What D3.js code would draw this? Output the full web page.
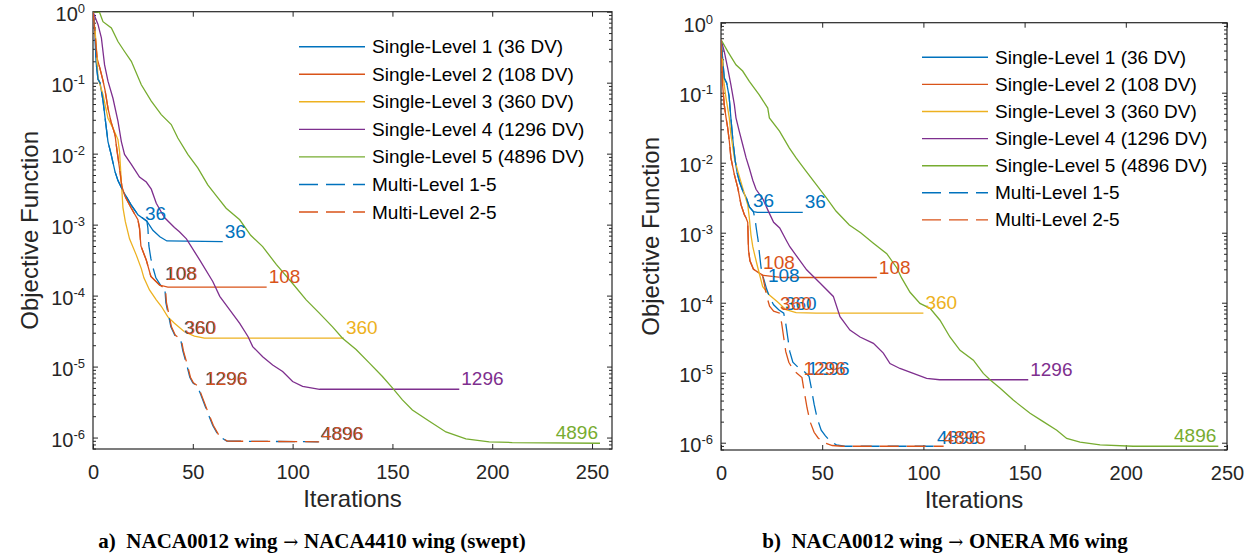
<!DOCTYPE html>
<html>
<head>
<meta charset="utf-8">
<script src="https://cdn.jsdelivr.net/npm/d3@7"></script>
<style>
  body { margin: 0; background: #fff; }
  svg text { font-family: "Liberation Sans", Arial, Helvetica, sans-serif; fill: #262626; }
  svg text.caption { font-family: "Liberation Serif", "Times New Roman", serif; font-weight: bold; fill: #000; }
</style>
</head>
<body>
<svg id="fig" width="1255" height="556"></svg>
<script>
// ---- panel a) NACA0012 -> NACA4410 (swept) ----
const aIt1 = [0,1,1.5,2.5,3.5,5,6.5,7.5,9,11,12.5,15.5,19,22.5,27,30,33.5,37,65];
const aObj1 = [1,0.5,0.2,0.112,0.1,0.0562,0.0251,0.0148,0.01,5.62e-3,4.17e-3,2.82e-3,1.91e-3,1.38e-3,1.12e-3,8.32e-4,6.76e-4,5.89e-4,5.75e-4];
const aIt2 = [0,1,2,3.5,5,6,7.5,9,11,12,12.5,13.5,14.5,16,19,22.5,23.3,24,26.7,29,33.3,37.5,87];
const aObj2 = [1,0.5,0.224,0.158,0.107,0.0794,0.0437,0.0282,0.0186,0.0112,8.91e-3,5.62e-3,3.39e-3,2.51e-3,1.74e-3,1.17e-3,8.91e-4,5.01e-4,3.16e-4,1.86e-4,1.41e-4,1.32e-4,1.32e-4];
const aIt3 = [0,1,1.8,2.5,5,7.5,10,12.5,13.3,14.2,15,16.2,18.3,21.7,24.2,25.5,28.3,31.7,34.2,37.5,40.8,45.8,50.8,55.8,125.7];
const aObj3 = [1,0.562,0.282,0.117,0.0676,0.0316,0.0229,0.0158,0.0107,3.98e-3,1.74e-3,1.1e-3,6.31e-4,3.72e-4,2.4e-4,1.78e-4,1.2e-4,8.71e-5,7.08e-5,5.01e-5,4.07e-5,3.09e-5,2.69e-5,2.51e-5,2.51e-5];
const aIt4 = [0,2.5,4.2,5.8,7.5,10,12.5,14.2,15.8,19.2,23.3,26.7,29.2,31.7,35.8,40.8,43.3,46.8,53.5,60,63.5,68.5,73.5,77.7,80,85,90,95,100,105,113.5,183.5];
const aObj4 = [1,0.661,0.427,0.178,0.105,0.0603,0.0288,0.0148,9.77e-3,7.08e-3,4.68e-3,3.98e-3,3.16e-3,2e-3,1.26e-3,9.12e-4,7.94e-4,6.31e-4,3.16e-4,1.58e-4,9.77e-5,6.31e-5,4.07e-5,2.63e-5,1.91e-5,1.38e-5,1.05e-5,8.51e-6,6.17e-6,5.25e-6,4.79e-6,4.79e-6];
const aIt5 = [0,3.3,5,9.2,12.5,15.8,19.2,24.2,29.2,34.2,39.2,42.5,47.5,52.5,57.5,62.5,66.7,73.5,79,85,91.8,100,106.8,113.5,120,125,131.8,138.5,145,150,155,160,168.5,176.8,186.8,198.5,210,254];
const aObj5 = [1,0.977,0.724,0.589,0.38,0.275,0.2,0.0933,0.055,0.0355,0.0257,0.0166,9.77e-3,6.31e-3,3.63e-3,2.4e-3,1.7e-3,1.17e-3,7.08e-4,4.9e-4,2.75e-4,1.48e-4,8.71e-5,5.62e-5,3.63e-5,2.51e-5,1.74e-5,1.12e-5,7.24e-6,5.01e-6,3.39e-6,2.45e-6,1.7e-6,1.2e-6,9.55e-7,8.71e-7,8.51e-7,8.32e-7];
const aItM1 = [0,1,1.5,2.5,3.5,5,6.5,7.5,9,11,12.5,15.5,19,22.5,27,27.5,28,29,30,31.5,34,36,36.5,38,39,41,43,44,45,47,48.5,50,52,53.5,57,60,63,67,113];
const aObjM1 = [1,0.5,0.2,0.112,0.1,0.0562,0.0251,0.0148,0.01,5.62e-3,4.17e-3,2.82e-3,1.91e-3,1.38e-3,1.12e-3,8.91e-4,5.01e-4,3.31e-4,2.51e-4,1.78e-4,1.38e-4,1.26e-4,7.94e-5,5.01e-5,3.63e-5,2.75e-5,2.51e-5,2.34e-5,1.66e-5,1.05e-5,7.08e-6,5.89e-6,5.37e-6,4.37e-6,2.4e-6,1.48e-6,1.05e-6,8.91e-7,8.71e-7];
const aItM2 = [0,1,2,3.5,5,6,7.5,9,11,12,12.5,13.5,14.5,16,19,22.5,23.3,24,26.7,29,33.3,36.3,36.8,38.3,39.3,41.3,43.3,44.3,45.3,47.3,48.8,50.3,52.3,53.8,57.3,60.3,63.3,67.3,113.3];
const aObjM2 = [1,0.5,0.224,0.158,0.107,0.0794,0.0437,0.0282,0.0186,0.0112,8.91e-3,5.62e-3,3.39e-3,2.51e-3,1.74e-3,1.17e-3,8.91e-4,5.01e-4,3.16e-4,1.86e-4,1.41e-4,1.26e-4,7.94e-5,5.01e-5,3.63e-5,2.75e-5,2.51e-5,2.34e-5,1.66e-5,1.05e-5,7.08e-6,5.89e-6,5.37e-6,4.37e-6,2.4e-6,1.48e-6,1.05e-6,8.91e-7,8.71e-7];
// level labels put along the multi-level runs
const aLabM1Text = ["36","108","360","1296","4896"];
const aLabM1It = [25,35,44.5,55,113];
const aLabM1Obj = [1.02e-3,1.45e-4,2.51e-5,4.9e-6,8.1e-7];
const aLabM2Text = ["108","360","1296","4896"];
const aLabM2It = [35.4,44.9,55.3,113.4];
const aLabM2Obj = [1.45e-4,2.51e-5,4.9e-6,8.1e-7];

// ---- panel b) NACA0012 -> ONERA M6 ----
const bIt1 = [0,1.6,2.8,4,5,6,7,8,9.2,11,12.5,14,16,18,40.4];
const bObj1 = [0.575,0.162,0.138,0.0891,0.0398,0.0191,0.0107,7.08e-3,5.25e-3,3.8e-3,3.16e-3,2.34e-3,2e-3,1.95e-3,1.95e-3];
const bIt2 = [0,0.8,1.6,2.5,3.3,4.1,4.9,6.6,8.3,9.9,11.5,12.4,13.2,13.6,14.3,16,18.5,21,30.5,77];
const bObj2 = [0.575,0.129,0.0676,0.0437,0.0316,0.0204,0.0117,6.76e-3,4.37e-3,2.51e-3,1.82e-3,1.62e-3,1.41e-3,5.62e-4,3.98e-4,3.02e-4,2.69e-4,2.45e-4,2.29e-4,2.29e-4];
const bIt3 = [0,0.8,1.6,2.5,4.1,4.9,6.6,8.3,10.7,13.2,14,14.8,15.7,16.5,18.1,20.6,23.9,28,32.1,37.1,47,100];
const bObj3 = [0.575,0.282,0.129,0.0832,0.0437,0.0251,0.0117,7.59e-3,4.37e-3,2.51e-3,1.62e-3,9.33e-4,6.31e-4,5.01e-4,3.24e-4,1.7e-4,1.29e-4,1.02e-4,7.94e-5,7.24e-5,7.08e-5,7.08e-5];
const bIt4 = [0,1.6,3.3,4.9,6.6,7.4,9,10.7,12.4,14,15.7,17.3,20.7,23.5,26,29,32.1,34,38,42.3,48.9,55.5,58.8,63.7,68.7,75.3,80.2,83.5,88.4,95,101.6,108,151.8];
const bObj4 = [0.575,0.389,0.224,0.129,0.0676,0.0437,0.0282,0.0182,0.0117,8.32e-3,5.62e-3,4.17e-3,3.02e-3,2e-3,1.41e-3,1.17e-3,7.94e-4,6.31e-4,4.37e-4,2.95e-4,1.91e-4,1.23e-4,6.31e-5,4.07e-5,3.24e-5,2.63e-5,1.91e-5,1.35e-5,1.15e-5,9.77e-6,8.32e-6,7.94e-6,7.94e-6];
const bIt5 = [0,3.3,7.4,10.7,14,18.9,23.1,23.9,28.9,33.8,37.1,42,47,52,56.8,63.4,69,75.3,81.9,86.8,89.3,93.4,98.3,103.3,108.2,113.1,118.1,124.7,129.6,132.9,137.8,144.4,152.7,159.2,165.9,170.8,177.4,187.3,203.7,245.7];
const bObj5 = [0.575,0.389,0.251,0.204,0.145,0.0933,0.0603,0.0437,0.0282,0.0162,0.0117,7.59e-3,4.9e-3,3.16e-3,2.04e-3,1.29e-3,1e-3,7.08e-4,5.01e-4,3.16e-4,2.24e-4,1.41e-4,9.77e-5,8.32e-5,5.62e-5,3.24e-5,2.09e-5,1.51e-5,9.77e-6,7.94e-6,6.03e-6,4.07e-6,2.63e-6,2e-6,1.51e-6,1.15e-6,1.02e-6,9.33e-7,8.91e-7,8.91e-7];
const bItM1 = [0,1.6,2.8,4,5,6,7,8,9.2,11,12.5,14,16,16.8,17.5,18.3,19,19.8,21,22.5,24,26,28.5,31,32,33,34,35.5,38,41,43.5,44.5,46,47.5,49.5,51.5,54,57,61,106];
const bObjM1 = [0.575,0.162,0.138,0.0891,0.0398,0.0191,0.0107,7.08e-3,5.25e-3,3.8e-3,3.16e-3,2.34e-3,2e-3,1.58e-3,1.12e-3,7.94e-4,5.01e-4,3.16e-4,2.24e-4,1.58e-4,1.2e-4,9.33e-5,7.94e-5,7.08e-5,5.01e-5,3.16e-5,2e-5,1.41e-5,1.2e-5,1.05e-5,8.91e-6,6.31e-6,3.55e-6,2.24e-6,1.51e-6,1.26e-6,1.05e-6,9.33e-7,8.91e-7,8.91e-7];
const bItM2 = [0,0.8,1.6,2.5,3.3,4.1,4.9,6.6,8.3,9.9,11.5,12.4,13.2,13.6,14.3,16,18.5,20.5,21.5,22.5,24,26,29,30,31,32,33.5,36,40,41,42.5,44,46,48,51,55,60,110];
const bObjM2 = [0.575,0.129,0.0676,0.0437,0.0316,0.0204,0.0117,6.76e-3,4.37e-3,2.51e-3,1.82e-3,1.62e-3,1.41e-3,5.62e-4,3.98e-4,3.02e-4,2.69e-4,2.45e-4,1.78e-4,1.26e-4,8.91e-5,7.59e-5,7.08e-5,5.01e-5,3.16e-5,2e-5,1.41e-5,1.07e-5,8.51e-6,5.62e-6,3.16e-6,2e-6,1.41e-6,1.17e-6,1e-6,9.12e-7,8.91e-7,8.91e-7];
const bLabM1Text = ["36","108","360","1296","4896"];
const bLabM1It = [14.8,22.2,30.6,41.7,105.7];
const bLabM1Obj = [2.04e-3,1.74e-4,6.92e-5,8.13e-6,8.32e-7];
const bLabM2Text = ["108","360","1296","4896"];
const bLabM2It = [19.8,28.2,39.8,109];
const bLabM2Obj = [2.63e-4,6.92e-5,8.13e-6,8.32e-7];

// shared
const seriesNames = ["Single-Level 1 (36 DV)", "Single-Level 2 (108 DV)", "Single-Level 3 (360 DV)",
  "Single-Level 4 (1296 DV)", "Single-Level 5 (4896 DV)", "Multi-Level 1-5", "Multi-Level 2-5"];
const dvText = ["36", "108", "360", "1296", "4896"];
const colors = ["#0072BD", "#D95319", "#EDB120", "#7E2F8E", "#77AC30"];
const xTickVals = [0, 50, 100, 150, 200, 250];
const yTickExp = [0, -1, -2, -3, -4, -5, -6];

const svg = d3.select("#fig");
svg.append("rect").attr("width", 1255).attr("height", 556).attr("fill", "#fff");

const dash = "19,8";
const axisCol = "#262626";

function drawPanel(p, idx) {
  const x = d3.scaleLinear().domain([0, p.xMax]).range([p.left, p.right]);
  const y = d3.scaleLog().domain([p.yMin, 1]).range([p.bottom, p.top]);
  const g = svg.append("g");

  const clipId = "clip" + idx;
  g.append("clipPath").attr("id", clipId).append("rect")
    .attr("x", p.left).attr("y", p.top).attr("width", p.right - p.left).attr("height", p.bottom - p.top);

  // minor ticks for the log axis (2..9 of each decade)
  const minor = [];
  for (let e = -7; e < 0; e++) {
    for (let m = 2; m <= 9; m++) {
      const v = m * Math.pow(10, e);
      if (v >= p.yMin && v <= 1) minor.push(v);
    }
  }
  const majors = yTickExp.map(e => Math.pow(10, e));

  // ticks inside the box, on all four sides
  const ax = [
    [d3.axisBottom(x).tickValues(xTickVals).tickSizeInner(-5), `translate(0,${p.bottom})`],
    [d3.axisTop(x).tickValues(xTickVals).tickSizeInner(-5).tickFormat(""), `translate(0,${p.top})`],
    [d3.axisLeft(y).tickValues(majors).tickSizeInner(-5).tickFormat(""), `translate(${p.left},0)`],
    [d3.axisLeft(y).tickValues(minor).tickSizeInner(-3).tickFormat(""), `translate(${p.left},0)`],
    [d3.axisRight(y).tickValues(majors).tickSizeInner(-5).tickFormat(""), `translate(${p.right},0)`],
    [d3.axisRight(y).tickValues(minor).tickSizeInner(-3).tickFormat(""), `translate(${p.right},0)`]
  ];
  ax.forEach(([a, tr], i) => {
    const s = g.append("g").attr("transform", tr).call(a.tickSizeOuter(0).tickPadding(16));
    s.select(".domain").remove();
    s.selectAll(".tick line").attr("stroke", axisCol);
    if (i === 0) {
      s.selectAll(".tick text").attr("font-size", 20).attr("fill", axisCol)
        .style("font-family", "'Liberation Sans', Arial, sans-serif");
    }
  });

  // 10^n labels
  yTickExp.forEach(e => {
    const t = g.append("text").attr("x", p.left - 8).attr("y", y(Math.pow(10, e)) + 9)
      .attr("text-anchor", "end").attr("font-size", 20);
    t.append("tspan").text("10");
    t.append("tspan").attr("dy", -8).attr("font-size", 13).text(e === 0 ? "0" : "-" + (-e));
  });

  g.append("rect").attr("x", p.left).attr("y", p.top)
    .attr("width", p.right - p.left).attr("height", p.bottom - p.top)
    .attr("fill", "none").attr("stroke", axisCol).attr("stroke-width", 1.2);

  const line = d3.line().x(d => x(d[0])).y(d => y(d[1]));
  const plot = g.append("g").attr("clip-path", `url(#${clipId})`);

  p.single.forEach((s, i) => {
    plot.append("path").datum(d3.zip(s[0], s[1]))
      .attr("d", line).attr("fill", "none").attr("stroke", colors[i]).attr("stroke-width", 1.3);
  });
  p.multi.forEach((s, i) => {
    plot.append("path").datum(d3.zip(s[0], s[1]))
      .attr("d", line).attr("fill", "none").attr("stroke", colors[i])
      .attr("stroke-width", 1.3).attr("stroke-dasharray", dash);
  });

  // DV labels at the end of every single-level run
  p.single.forEach((s, i) => {
    const n = s[0].length - 1;
    const last = i === 4;
    g.append("text").attr("x", x(s[0][n]) + (last ? -2 : 2)).attr("y", y(s[1][n]) - 4)
      .attr("text-anchor", last ? "end" : "start").attr("font-size", 19)
      .style("fill", colors[i]).text(dvText[i]);
  });
  // labels where the multi-level runs switch level
  p.multiLabels.forEach((L, i) => {
    L[0].forEach((txt, k) => {
      g.append("text").attr("x", x(L[1][k]) + 2).attr("y", y(L[2][k]) - 4)
        .attr("font-size", 19).style("fill", colors[i]).text(txt);
    });
  });

  // legend
  seriesNames.forEach((name, i) => {
    const cy = p.legY + i * p.legStep;
    g.append("line").attr("x1", p.legX).attr("x2", p.legX + 66).attr("y1", cy).attr("y2", cy)
      .attr("stroke", colors[i < 5 ? i : i - 5]).attr("stroke-width", 1.4)
      .attr("stroke-dasharray", i < 5 ? null : dash);
    g.append("text").attr("x", p.legX + 73).attr("y", cy + 6.5).attr("font-size", 19)
      .style("fill", "#000").text(name);
  });

  // axis titles
  g.append("text").attr("x", (p.left + p.right) / 2).attr("y", p.bottom + 58)
    .attr("text-anchor", "middle").attr("font-size", 24).text("Iterations");
  g.append("text").attr("transform", `translate(${p.yLabX},${(p.top + p.bottom) / 2}) rotate(-90)`)
    .attr("text-anchor", "middle").attr("font-size", 24).text("Objective Function");

  // sub-figure caption, arrow from a font with a full-size glyph
  const cap = svg.append("text").attr("class", "caption").attr("x", p.capX).attr("y", 548)
    .attr("text-anchor", "middle").attr("font-size", 21).style("white-space", "pre");
  cap.append("tspan").text(p.caption[0]);
  cap.append("tspan").style("font-family", "'DejaVu Serif', serif").style("font-weight", "normal")
    .attr("font-size", 18).text(" \u2192 ");
  cap.append("tspan").text(p.caption[1]);
}

const panels = [
  { left: 93, right: 612, top: 11.7, bottom: 449, xMax: 260, yMin: 6.9e-7,
    single: [[aIt1, aObj1], [aIt2, aObj2], [aIt3, aObj3], [aIt4, aObj4], [aIt5, aObj5]],
    multi: [[aItM1, aObjM1], [aItM2, aObjM2]],
    multiLabels: [[aLabM1Text, aLabM1It, aLabM1Obj], [aLabM2Text, aLabM2It, aLabM2Obj]],
    legX: 299, legY: 46.7, legStep: 27.55, yLabX: 38, capX: 312,
    caption: ["a)  NACA0012 wing", "NACA4410 wing (swept)"] },
  { left: 721, right: 1227, top: 22.7, bottom: 450, xMax: 250, yMin: 7.87e-7,
    single: [[bIt1, bObj1], [bIt2, bObj2], [bIt3, bObj3], [bIt4, bObj4], [bIt5, bObj5]],
    multi: [[bItM1, bObjM1], [bItM2, bObjM2]],
    multiLabels: [[bLabM1Text, bLabM1It, bLabM1Obj], [bLabM2Text, bLabM2It, bLabM2Obj]],
    legX: 922, legY: 57.3, legStep: 27.1, yLabX: 659, capX: 945,
    caption: ["b)  NACA0012 wing", "ONERA M6 wing"] }
];

panels.forEach(drawPanel);
</script>
</body>
</html>
